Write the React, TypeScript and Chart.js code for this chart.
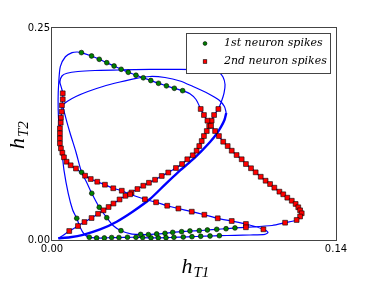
import React, { useEffect, useRef } from 'react';
import { Chart, registerables } from 'chart.js';

Chart.register(...registerables);

// Trajectory of (h_T1, h_T2) — thin part of the orbit
const trajectory: [number, number][] = [
  [0.0031, 0.0020], [0.0054, 0.0053],
  [0.0085, 0.0106], [0.0128, 0.0165], [0.0160, 0.0212], [0.0195, 0.0259], [0.0227, 0.0309], [0.0254, 0.0350],
  [0.0279, 0.0389], [0.0303, 0.0430], [0.0333, 0.0478], [0.0362, 0.0521], [0.0392, 0.0560], [0.0421, 0.0601],
  [0.0450, 0.0640], [0.0478, 0.0675], [0.0508, 0.0710], [0.0541, 0.0755], [0.0573, 0.0796], [0.0611, 0.0849],
  [0.0641, 0.0896], [0.0667, 0.0952], [0.0694, 0.0999], [0.0713, 0.1053], [0.0726, 0.1108], [0.0738, 0.1167],
  [0.0749, 0.1226], [0.0763, 0.1285], [0.0775, 0.1344], [0.0787, 0.1407], [0.0799, 0.1474], [0.0820, 0.1545],
  [0.0836, 0.1639], [0.0848, 0.1733], [0.0853, 0.1834], [0.0843, 0.1922], [0.0823, 0.1975], [0.0789, 0.1999],
  [0.0730, 0.2007], [0.0631, 0.2011], [0.0483, 0.2011], [0.0335, 0.2007], [0.0212, 0.1999], [0.0128, 0.1987],
  [0.0074, 0.1966], [0.0049, 0.1934], [0.0039, 0.1863], [0.0047, 0.1792],
  [0.0053, 0.1730], [0.0053, 0.1659], [0.0049, 0.1588], [0.0048, 0.1513], [0.0044, 0.1442], [0.0043, 0.1383],
  [0.0039, 0.1317], [0.0039, 0.1258], [0.0039, 0.1199], [0.0039, 0.1140], [0.0044, 0.1081], [0.0051, 0.1029],
  [0.0059, 0.0975], [0.0072, 0.0923], [0.0092, 0.0881], [0.0118, 0.0843],
  [0.0163, 0.0758], [0.0191, 0.0719], [0.0223, 0.0687], [0.0261, 0.0652], [0.0302, 0.0610], [0.0344, 0.0581],
  [0.0385, 0.0539], [0.0458, 0.0480], [0.0513, 0.0445], [0.0568, 0.0404], [0.0623, 0.0371], [0.0689, 0.0334],
  [0.0751, 0.0298], [0.0817, 0.0256], [0.0886, 0.0224], [0.0956, 0.0189], [0.1042, 0.0126],
  [0.1065, 0.0088], [0.1050, 0.0067], [0.0976, 0.0059], [0.0902, 0.0055],
  [0.0825, 0.0051], [0.0779, 0.0047], [0.0733, 0.0044], [0.0690, 0.0039], [0.0647, 0.0035], [0.0601, 0.0032],
  [0.0562, 0.0027], [0.0524, 0.0026], [0.0488, 0.0026], [0.0447, 0.0029], [0.0414, 0.0032], [0.0372, 0.0032],
  [0.0330, 0.0029], [0.0294, 0.0029], [0.0258, 0.0024], [0.0220, 0.0024], [0.0184, 0.0032],
  [0.0158, 0.0071], [0.0138, 0.0153], [0.0122, 0.0256], [0.0102, 0.0354], [0.0080, 0.0551], [0.0059, 0.0825],
  [0.0048, 0.1061], [0.0038, 0.1238], [0.0032, 0.1439], [0.0030, 0.1651], [0.0033, 0.1848], [0.0041, 0.2044],
  [0.0066, 0.2161], [0.0099, 0.2209], [0.0123, 0.2217],
  [0.0145, 0.2210], [0.0195, 0.2170], [0.0233, 0.2131], [0.0270, 0.2091], [0.0306, 0.2052], [0.0341, 0.2013],
  [0.0376, 0.1978], [0.0414, 0.1943], [0.0450, 0.1913], [0.0487, 0.1881], [0.0525, 0.1848], [0.0564, 0.1818],
  [0.0603, 0.1789], [0.0644, 0.1761], [0.0680, 0.1724], [0.0710, 0.1657],
  [0.0733, 0.1545], [0.0749, 0.1474], [0.0766, 0.1407], [0.0784, 0.1348], [0.0804, 0.1285], [0.0823, 0.1226],
  [0.0844, 0.1159], [0.0866, 0.1108], [0.0886, 0.1053], [0.0910, 0.1002], [0.0935, 0.0952], [0.0956, 0.0896],
  [0.0981, 0.0846], [0.1004, 0.0798], [0.1029, 0.0746], [0.1053, 0.0699], [0.1075, 0.0660], [0.1096, 0.0617],
  [0.1121, 0.0570], [0.1140, 0.0539], [0.1160, 0.0499], [0.1182, 0.0463], [0.1201, 0.0425], [0.1214, 0.0386],
  [0.1223, 0.0350], [0.1231, 0.0315], [0.1223, 0.0277], [0.1206, 0.0236], [0.1149, 0.0204],
  [0.1085, 0.0171], [0.0956, 0.0150],
  [0.0902, 0.0142], [0.0858, 0.0133], [0.0812, 0.0126], [0.0766, 0.0118], [0.0726, 0.0110], [0.0680, 0.0106],
  [0.0639, 0.0098], [0.0595, 0.0090], [0.0557, 0.0079], [0.0516, 0.0071], [0.0475, 0.0064], [0.0437, 0.0066],
  [0.0389, 0.0073], [0.0340, 0.0110], [0.0301, 0.0171], [0.0270, 0.0263], [0.0233, 0.0386], [0.0196, 0.0551],
  [0.0170, 0.0684], [0.0146, 0.0798], [0.0118, 0.1038], [0.0089, 0.1262], [0.0067, 0.1450], [0.0054, 0.1592],
  [0.0074, 0.1633], [0.0118, 0.1692], [0.0177, 0.1751], [0.0251, 0.1810], [0.0335, 0.1863], [0.0409, 0.1904],
  [0.0483, 0.1928], [0.0557, 0.1916], [0.0631, 0.1875], [0.0695, 0.1810], [0.0769, 0.1728], [0.0823, 0.1651],
  [0.0850, 0.1574], [0.0859, 0.1498],
];

// Thick (doubled) part of the orbit, back to the cusp
const thickTrajectory: [number, number][] = [
  [0.0859, 0.1498], [0.0850, 0.1415], [0.0833, 0.1333], [0.0811, 0.1250], [0.0779, 0.1156], [0.0739, 0.1055],
  [0.0690, 0.0941], [0.0621, 0.0798], [0.0557, 0.0654], [0.0483, 0.0483], [0.0399, 0.0336], [0.0319, 0.0216],
  [0.0237, 0.0124], [0.0153, 0.0061], [0.0089, 0.0033], [0.0031, 0.0020],
];

// 1st neuron spikes
const spikes1: [number, number][] = [
  [0.0145, 0.2210], [0.0195, 0.2170], [0.0233, 0.2131], [0.0270, 0.2091], [0.0306, 0.2052], [0.0341, 0.2013],
  [0.0376, 0.1978], [0.0414, 0.1943], [0.0450, 0.1913], [0.0487, 0.1881], [0.0525, 0.1848], [0.0564, 0.1818],
  [0.0603, 0.1789], [0.0644, 0.1761],
  [0.0122, 0.0256],
  [0.0146, 0.0798], [0.0196, 0.0551], [0.0233, 0.0386], [0.0270, 0.0263], [0.0340, 0.0110],
  [0.0184, 0.0032], [0.0220, 0.0024], [0.0258, 0.0024], [0.0294, 0.0029], [0.0330, 0.0029], [0.0372, 0.0032],
  [0.0414, 0.0032], [0.0447, 0.0029], [0.0488, 0.0026], [0.0524, 0.0026], [0.0562, 0.0027], [0.0601, 0.0032],
  [0.0647, 0.0035], [0.0690, 0.0039], [0.0733, 0.0044], [0.0779, 0.0047], [0.0825, 0.0051],
  [0.0437, 0.0066], [0.0475, 0.0064], [0.0516, 0.0071], [0.0557, 0.0079], [0.0595, 0.0090], [0.0639, 0.0098],
  [0.0680, 0.0106], [0.0726, 0.0110], [0.0766, 0.0118], [0.0812, 0.0126], [0.0858, 0.0133], [0.0902, 0.0142],
];

// 2nd neuron spikes
const spikes2: [number, number][] = [
  [0.0085, 0.0106], [0.0128, 0.0165], [0.0160, 0.0212], [0.0195, 0.0259], [0.0227, 0.0309], [0.0254, 0.0350],
  [0.0279, 0.0389], [0.0303, 0.0430], [0.0333, 0.0478], [0.0362, 0.0521], [0.0392, 0.0560], [0.0421, 0.0601],
  [0.0450, 0.0640], [0.0478, 0.0675], [0.0508, 0.0710], [0.0541, 0.0755], [0.0573, 0.0796], [0.0611, 0.0849],
  [0.0641, 0.0896], [0.0667, 0.0952], [0.0694, 0.0999], [0.0713, 0.1053], [0.0726, 0.1108], [0.0738, 0.1167],
  [0.0749, 0.1226], [0.0763, 0.1285], [0.0775, 0.1344], [0.0787, 0.1407], [0.0799, 0.1474], [0.0820, 0.1545],
  [0.0053, 0.1730], [0.0053, 0.1659], [0.0049, 0.1588], [0.0048, 0.1513], [0.0044, 0.1442], [0.0043, 0.1383],
  [0.0039, 0.1317], [0.0039, 0.1258], [0.0039, 0.1199], [0.0039, 0.1140], [0.0044, 0.1081], [0.0051, 0.1029],
  [0.0059, 0.0975], [0.0072, 0.0923], [0.0092, 0.0881], [0.0118, 0.0843],
  [0.0163, 0.0758], [0.0191, 0.0719], [0.0223, 0.0687], [0.0261, 0.0652], [0.0302, 0.0610], [0.0344, 0.0581],
  [0.0385, 0.0539], [0.0458, 0.0480], [0.0513, 0.0445], [0.0568, 0.0404], [0.0623, 0.0371], [0.0689, 0.0334],
  [0.0751, 0.0298], [0.0817, 0.0256], [0.0886, 0.0224], [0.0956, 0.0189], [0.1042, 0.0126],
  [0.0733, 0.1545], [0.0749, 0.1474], [0.0766, 0.1407], [0.0784, 0.1348], [0.0804, 0.1285], [0.0823, 0.1226],
  [0.0844, 0.1159], [0.0866, 0.1108], [0.0886, 0.1053], [0.0910, 0.1002], [0.0935, 0.0952], [0.0956, 0.0896],
  [0.0981, 0.0846], [0.1004, 0.0798], [0.1029, 0.0746], [0.1053, 0.0699], [0.1075, 0.0660], [0.1096, 0.0617],
  [0.1121, 0.0570], [0.1140, 0.0539], [0.1160, 0.0499], [0.1182, 0.0463], [0.1201, 0.0425], [0.1214, 0.0386],
  [0.1223, 0.0350], [0.1231, 0.0315], [0.1223, 0.0277], [0.1206, 0.0236], [0.1149, 0.0204],
  [0.0956, 0.0150],
];

const xTicks = [0, 0.14];
const yTicks = [0, 0.25];
const legendLabels = ['1st neuron spikes', '2nd neuron spikes'];
const xTitle = ['h', 'T1'];
const yTitle = ['h', 'T2'];

const toPts = (arr: [number, number][]) => arr.map(([x, y]) => ({ x, y }));

const overlayPlugin = {
  id: 'overlay',
  afterDraw(chart: any) {
    const ctx: CanvasRenderingContext2D = chart.ctx;
    const a = chart.chartArea;
    ctx.save();
    // frame
    ctx.strokeStyle = '#444';
    ctx.lineWidth = 1;
    ctx.strokeRect(a.left - 0.5, a.top - 0.5, a.right - a.left + 1, a.bottom - a.top + 1);

    // legend box
    const bx = 186.5, by = 33.5, bw = 144, bh = 40;
    ctx.fillStyle = '#ffffff';
    ctx.fillRect(bx, by, bw, bh);
    ctx.strokeStyle = '#444';
    ctx.strokeRect(bx, by, bw, bh);
    ctx.lineWidth = 0.6;
    ctx.strokeStyle = '#000';
    ctx.beginPath();
    ctx.arc(205, 43.5, 1.9, 0, Math.PI * 2);
    ctx.fillStyle = '#008000';
    ctx.fill();
    ctx.stroke();
    ctx.fillStyle = '#ff0000';
    ctx.fillRect(203.2, 59.7, 3.6, 3.6);
    ctx.strokeRect(203.2, 59.7, 3.6, 3.6);
    ctx.fillStyle = '#000';
    ctx.font = 'italic 11px "DejaVu Serif"';
    ctx.textBaseline = 'middle';
    ctx.textAlign = 'left';
    ctx.fillText(legendLabels[0], 224, 43.5);
    ctx.fillText(legendLabels[1], 224, 61.5);

    // axis titles
    ctx.textBaseline = 'alphabetic';
    ctx.font = 'italic 22px "Liberation Serif"';
    ctx.fillText(xTitle[0], 181.5, 272.5);
    const hw = ctx.measureText(xTitle[0]).width;
    ctx.font = 'italic 15px "Liberation Serif"';
    ctx.fillText(xTitle[1], 181.5 + hw + 1, 276.5);

    ctx.translate(23.5, 149);
    ctx.rotate(-Math.PI / 2);
    ctx.font = 'italic 22px "Liberation Serif"';
    ctx.fillText(yTitle[0], 0, 0);
    ctx.font = 'italic 15px "Liberation Serif"';
    ctx.fillText(yTitle[1], hw + 1, 4);
    ctx.restore();
  },
};

export default function App() {
  const ref = useRef<HTMLCanvasElement | null>(null);
  useEffect(() => {
    if (!ref.current) return;
    const tickFont = { family: '"DejaVu Sans"', size: 10 };
    const chart = new Chart(ref.current, {
      type: 'scatter',
      data: {
        datasets: [
          {
            label: legendLabels[1],
            data: toPts(spikes2),
            showLine: false,
            pointStyle: 'rect',
            pointRadius: 3.4,
            pointBackgroundColor: '#ff0000',
            pointBorderColor: '#000000',
            pointBorderWidth: 0.6,
          } as any,
          {
            label: legendLabels[0],
            data: toPts(spikes1),
            showLine: false,
            pointStyle: 'circle',
            pointRadius: 2.4,
            pointBackgroundColor: '#008000',
            pointBorderColor: '#000000',
            pointBorderWidth: 0.6,
          } as any,
          {
            label: 'trajectory',
            data: toPts(trajectory),
            showLine: true,
            borderColor: '#0000ff',
            borderWidth: 1.2,
            pointRadius: 0,
            tension: 0.25,
            fill: false,
          } as any,
          {
            label: 'trajectory2',
            data: toPts(thickTrajectory),
            showLine: true,
            borderColor: '#0000ff',
            borderWidth: 2.4,
            pointRadius: 0,
            tension: 0.25,
            fill: false,
          } as any,
        ],
      },
      options: {
        animation: false,
        responsive: false,
        devicePixelRatio: 1,
        events: [],
        layout: { padding: { left: 0, top: 28, right: 38, bottom: 0 } },
        plugins: { legend: { display: false }, tooltip: { enabled: false } },
        scales: {
          x: {
            type: 'linear',
            min: 0,
            max: 0.14,
            afterBuildTicks: (s: any) => { s.ticks = xTicks.map((v) => ({ value: v })); },
            afterFit: (s: any) => { s.height = 42; },
            ticks: {
              callback: (v: any) => Number(v).toFixed(2),
              font: tickFont,
              color: '#000',
              padding: 3,
              maxRotation: 0,
              autoSkip: false,
            },
            grid: { display: false, drawTicks: false },
            border: { display: false },
          },
          y: {
            type: 'linear',
            min: 0,
            max: 0.25,
            afterBuildTicks: (s: any) => { s.ticks = yTicks.map((v) => ({ value: v })); },
            afterFit: (s: any) => { s.width = 52; },
            ticks: {
              callback: (v: any) => Number(v).toFixed(2),
              font: tickFont,
              color: '#000',
              padding: 2,
              autoSkip: false,
            },
            grid: { display: false, drawTicks: false },
            border: { display: false },
          },
        },
      } as any,
      plugins: [overlayPlugin],
    });
    return () => chart.destroy();
  }, []);

  return (
    <div style={{ position: 'fixed', left: 0, top: 0, width: 374, height: 282, background: '#fff' }}>
      <canvas ref={ref} width={374} height={282} style={{ display: 'block', width: 374, height: 282 }} />
    </div>
  );
}
